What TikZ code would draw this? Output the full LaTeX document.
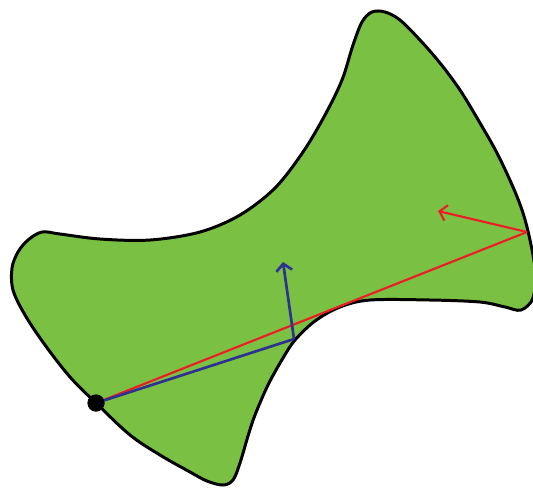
\documentclass[tikz,border=0pt]{standalone}
\usetikzlibrary{arrows.meta}
\definecolor{LeafGreen} {RGB}{122,193, 67}
\definecolor{ChordRed}  {RGB}{237, 28, 36}
\definecolor{ChordBlue} {RGB}{ 46, 49,146}
\tikzset{
  %% 区域与边界
  region/.style={draw=black,line width=1.7pt,fill=LeafGreen},
  %% 起点
  dotnode/.style={circle,fill=black,inner sep=0pt,minimum size=0.34cm},
  %% 线段与法向箭头
  redline/.style={ChordRed,line width=1.2pt},
  blueline/.style={ChordBlue,line width=1.5pt},
  redarr/.style={-{Straight Barb[length=4pt,width=9pt]},ChordRed,line width=1.2pt},
  bluearr/.style={-{Straight Barb[length=4pt,width=9pt]},ChordBlue,line width=1.5pt},
}
\begin{document}
\begin{tikzpicture}[x=0.02cm,y=-0.02cm]
    \useasboundingbox (0,0) rectangle (533,488);
    \clip (0,0) rectangle (533,488);

    %% 区域
    \draw[region] plot[smooth cycle,tension=0.55] coordinates {
      (42,232) (60,234) (100,239) (150,240) (200,232) (240,215)
      (275,188) (303,152) (325,115) (342,80) (353,45) (362,22)
      (372,12) (385,12) (400,20) (420,40) (440,63) (460,90)
      (480,123) (497,153) (513,187) (523,213) (530,240) (535,270)
      (533,298) (521,310) (505,307)
      (480,302) (430,300) (370,300) (340,307) (315,321) (295,340)
      (283,358) (268,385) (255,415) (248,436) (240,463) (233,480)
      (223,485) (207,481) (190,472) (160,455) (130,435) (96,403)
      (70,377) (45,345) (25,315) (13,290) (12,268) (18,252) (28,240)};

    %% 端点
    \coordinate (Q)  at (294,339);
    \coordinate (Qn) at (283,262);
    \coordinate (R)  at (527,232);
    \coordinate (Rn) at (438,211);
    \node[dotnode] (P) at (96,403) {};

    %% 弦与法向
    \draw[redline]  (P.center) -- (R);
    \draw[redarr]   (R) -- (Rn);
    \draw[blueline] (P.center) -- (Q);
    \draw[bluearr]  (Q) -- (Qn);
    \node[dotnode] at (P) {};
\end{tikzpicture}
\end{document}
